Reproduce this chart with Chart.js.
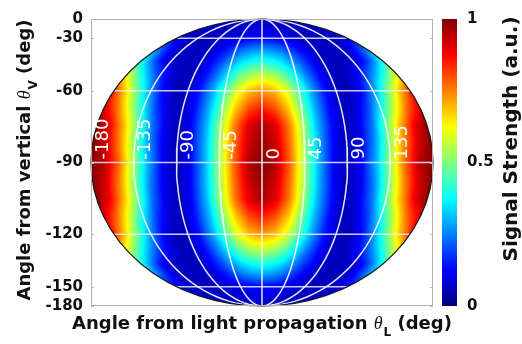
<!DOCTYPE html>
<html lang="en">
<head>
<meta charset="UTF-8">
<title>Signal map</title>
<script src="https://cdn.jsdelivr.net/npm/chart.js"></script>
<style>
  body { margin: 0; background: #fff; }
  .chart-box { width: 522px; height: 344px; }
</style>
</head>
<body>
<div class="chart-box"><canvas id="mapChart"></canvas></div>
<script>
// grid of the map (deg)
const thetaL = [-180,-165,-150,-135,-120,-105,-90,-75,-60,-45,-30,-15,0,15,30,45,60,75,90,105,120,135,150,165,180];
const thetaV = [0,15,30,45,60,75,90,105,120,135,150,165,180];

// signal strength read along each row of the map (cols follow thetaL)
const rowV0  = [.07,.07,.07,.07,.07,.07,.07,.07,.07,.07,.07,.07,.07,.07,.07,.07,.07,.07,.07,.07,.07,.07,.07,.07,.07];
const rowV15 = [.07,.07,.07,.07,.07,.07,.07,.07,.07,.07,.08,.08,.08,.08,.08,.07,.07,.07,.07,.07,.07,.07,.07,.07,.07];
const rowV30 = [.10,.08,.06,.06,.06,.06,.07,.08,.09,.10,.11,.12,.12,.12,.11,.10,.09,.08,.07,.06,.06,.06,.06,.08,.10];
const rowV45 = [.41,.25,.13,.07,.06,.06,.07,.12,.19,.27,.34,.38,.40,.38,.34,.27,.19,.12,.07,.06,.06,.07,.13,.25,.41];
const rowV60 = [.84,.66,.46,.26,.12,.05,.07,.15,.29,.45,.60,.69,.73,.69,.60,.45,.29,.15,.07,.05,.12,.26,.46,.66,.84];
const rowV75 = [.99,.88,.69,.47,.24,.10,.05,.14,.31,.53,.75,.90,.96,.90,.75,.53,.31,.14,.05,.10,.24,.47,.69,.88,.99];
const rowV90 = [1,.94,.77,.53,.30,.12,.05,.12,.30,.53,.77,.94,1,.94,.77,.53,.30,.12,.05,.12,.30,.53,.77,.94,1];
// lower half mirrors the upper half
const signal = [rowV0, rowV15, rowV30, rowV45, rowV60, rowV75, rowV90, rowV75, rowV60, rowV45, rowV30, rowV15, rowV0];

const meridians = [-135, -90, -45, 0, 45, 90, 135];
const meridianLabels = [-180, -135, -90, -45, 0, 45, 90, 135];
const parallels = [30, 60, 90, 120, 150];
const vTicks = [0, -30, -60, -90, -120, -150, -180];
const barTicks = [0, 0.5, 1];

const DEG = Math.PI / 180;

function jet(t) {
    const c = x => Math.max(0, Math.min(1, x));
    return [c(1.5 - Math.abs(4 * t - 3)), c(1.5 - Math.abs(4 * t - 2)), c(1.5 - Math.abs(4 * t - 1))]
        .map(x => Math.round(x * 255));
}

function sampleSignal(phi, th) {
    const stepL = thetaL[1] - thetaL[0], stepV = thetaV[1] - thetaV[0];
    const cc = Math.max(0, Math.min(thetaL.length - 1.0001, (phi - thetaL[0]) / stepL));
    const rr = Math.max(0, Math.min(thetaV.length - 1.0001, (th - thetaV[0]) / stepV));
    const i = Math.floor(cc), j = Math.floor(rr), fc = cc - i, fr = rr - j;
    const a = signal[j][i] * (1 - fc) + signal[j][i + 1] * fc;
    const b = signal[j + 1][i] * (1 - fc) + signal[j + 1][i + 1] * fc;
    return a * (1 - fr) + b * fr;
}

// grid lines of the projection: x = (thetaL/180) sin(thetaV), y = cos(thetaV)
const lineStyle = { showLine: true, pointRadius: 0, borderWidth: 1.5, borderColor: 'rgba(255,255,255,0.9)', fill: false };
const datasets = [];
meridians.forEach(m => {
    const pts = [];
    for (let t = 0; t <= 180; t += 3) pts.push({ x: m / 180 * Math.sin(t * DEG), y: Math.cos(t * DEG) });
    datasets.push({ ...lineStyle, data: pts });
});
parallels.forEach(p => {
    const s = Math.sin(p * DEG), c = Math.cos(p * DEG);
    datasets.push({ ...lineStyle, borderColor: 'rgba(240,240,255,0.85)', data: [{ x: -s, y: c }, { x: s, y: c }] });
});

function drawParts(ctx, parts, x, y, rot) {
    ctx.save();
    ctx.translate(x, y);
    ctx.rotate(rot);
    ctx.textAlign = 'left';
    ctx.textBaseline = 'alphabetic';
    let total = 0;
    parts.forEach(p => { ctx.font = p.font; p.w = ctx.measureText(p.text).width; total += p.w + (p.gap || 0); });
    let cx = -total / 2;
    parts.forEach(p => { ctx.font = p.font; ctx.fillText(p.text, cx, p.dy || 0); cx += p.w + (p.gap || 0); });
    ctx.restore();
}

const heatmapPlugin = {
    id: 'heatmap',
    beforeDatasetsDraw(chart) {
        const { ctx, chartArea: a, scales: { x, y } } = chart;
        const w = Math.ceil(a.right - a.left), h = Math.ceil(a.bottom - a.top);
        const off = document.createElement('canvas');
        off.width = w; off.height = h;
        const octx = off.getContext('2d');
        const img = octx.createImageData(w, h);
        for (let py = 0; py < h; py++) {
            const v = y.getValueForPixel(a.top + py + 0.5);
            for (let px = 0; px < w; px++) {
                const u = x.getValueForPixel(a.left + px + 0.5);
                if (u * u + v * v > 1) continue;
                const th = Math.acos(Math.max(-1, Math.min(1, v)));
                const s = Math.sin(th);
                const phi = s > 1e-6 ? Math.max(-180, Math.min(180, 180 * u / s)) : 0;
                const col = jet(sampleSignal(phi, th / DEG));
                const k = (py * w + px) * 4;
                img.data[k] = col[0]; img.data[k + 1] = col[1]; img.data[k + 2] = col[2]; img.data[k + 3] = 255;
            }
        }
        octx.putImageData(img, 0, 0);
        ctx.drawImage(off, a.left, a.top);
    }
};

const framePlugin = {
    id: 'frame',
    afterDatasetsDraw(chart) {
        const { ctx, chartArea: a, scales: { x, y, y2 } } = chart;
        const cx = x.getPixelForValue(0), cy = y.getPixelForValue(0);
        const rx = x.getPixelForValue(1) - cx, ry = cy - y.getPixelForValue(1);
        ctx.save();
        // outline of the map
        ctx.strokeStyle = '#1a1a1a';
        ctx.lineWidth = 1.2;
        ctx.beginPath();
        ctx.ellipse(cx, cy, rx, ry, 0, 0, Math.PI * 2);
        ctx.stroke();
        // axes box and inward ticks
        ctx.strokeStyle = '#b0b0b0';
        ctx.lineWidth = 1;
        ctx.strokeRect(Math.round(a.left) + 0.5, Math.round(a.top) + 0.5, Math.round(a.right - a.left) - 1, Math.round(a.bottom - a.top) - 1);
        vTicks.forEach(d => {
            const py = Math.round(y.getPixelForValue(Math.cos(-d * DEG))) + 0.5;
            ctx.beginPath();
            ctx.moveTo(a.left, py); ctx.lineTo(a.left + 3, py);
            ctx.moveTo(a.right - 3, py); ctx.lineTo(a.right, py);
            ctx.stroke();
        });
        // meridian labels
        ctx.fillStyle = '#fff';
        ctx.font = '18px "DejaVu Sans"';
        ctx.textAlign = 'left';
        ctx.textBaseline = 'middle';
        meridianLabels.forEach(m => {
            ctx.save();
            ctx.translate(x.getPixelForValue(m / 180) + 12, cy - 3);
            ctx.rotate(-Math.PI / 2);
            ctx.fillText(String(m), 0, 0);
            ctx.restore();
        });
        // colour bar
        const top = y2.getPixelForValue(1), bot = y2.getPixelForValue(0);
        const grad = ctx.createLinearGradient(0, bot, 0, top);
        [0, 0.125, 0.375, 0.625, 0.875, 1].forEach(t => grad.addColorStop(t, 'rgb(' + jet(t).join(',') + ')'));
        ctx.fillStyle = grad;
        ctx.fillRect(y2.left + 9, top, 15, bot - top);
        ctx.restore();

        // titles
        ctx.save();
        ctx.fillStyle = '#111';
        const big = 'bold 18px "DejaVu Sans"', sub = 'bold 12px "DejaVu Sans"', greek = 'italic 18px "Liberation Serif"';
        drawParts(ctx, [
            { text: 'Angle from light propagation ', font: big },
            { text: 'θ', font: greek, gap: 1 },
            { text: 'L', font: sub, dy: 7 },
            { text: ' (deg)', font: big }
        ], cx, 329, 0);
        drawParts(ctx, [
            { text: 'Angle from vertical ', font: big },
            { text: 'θ', font: greek, gap: 1 },
            { text: 'V', font: sub, dy: 7 },
            { text: ' (deg)', font: big }
        ], 30, 160, -Math.PI / 2);
        drawParts(ctx, [{ text: 'Signal Strength (a.u.)', font: 'bold 20px "DejaVu Sans"' }], 517, 139, -Math.PI / 2);
        ctx.restore();
    }
};

const tickFont = { family: 'DejaVu Sans', size: 15, weight: 'bold' };
// keep the label overflow from shrinking the plot area
const noPad = s => { s.paddingTop = 0; s.paddingBottom = 0; };

new Chart(document.getElementById('mapChart'), {
    type: 'scatter',
    data: { datasets: datasets },
    options: {
        responsive: true,
        maintainAspectRatio: false,
        animation: false,
        layout: { padding: { top: 19, bottom: 38, left: 0, right: 0 } },
        plugins: { legend: { display: false }, tooltip: { enabled: false } },
        scales: {
            x: { type: 'linear', min: -1, max: 1, display: false },
            y: {
                type: 'linear', min: -1, max: 1, position: 'left',
                grid: { display: false, drawTicks: false },
                border: { display: false },
                afterBuildTicks: s => { s.ticks = vTicks.map(d => ({ value: Math.cos(-d * DEG) })); },
                afterFit: s => { s.width = 91; noPad(s); },
                ticks: { autoSkip: false, padding: 8, color: '#111', font: tickFont, callback: (v, i) => String(vTicks[i]) }
            },
            y2: {
                type: 'linear', min: 0, max: 1, position: 'right',
                grid: { display: false, drawTicks: false },
                border: { display: false },
                afterBuildTicks: s => { s.ticks = barTicks.map(v => ({ value: v })); },
                afterFit: s => { s.width = 89; noPad(s); },
                ticks: { autoSkip: false, padding: 34, color: '#111', font: tickFont, callback: v => String(v) }
            }
        }
    },
    plugins: [heatmapPlugin, framePlugin]
});
</script>
</body>
</html>
